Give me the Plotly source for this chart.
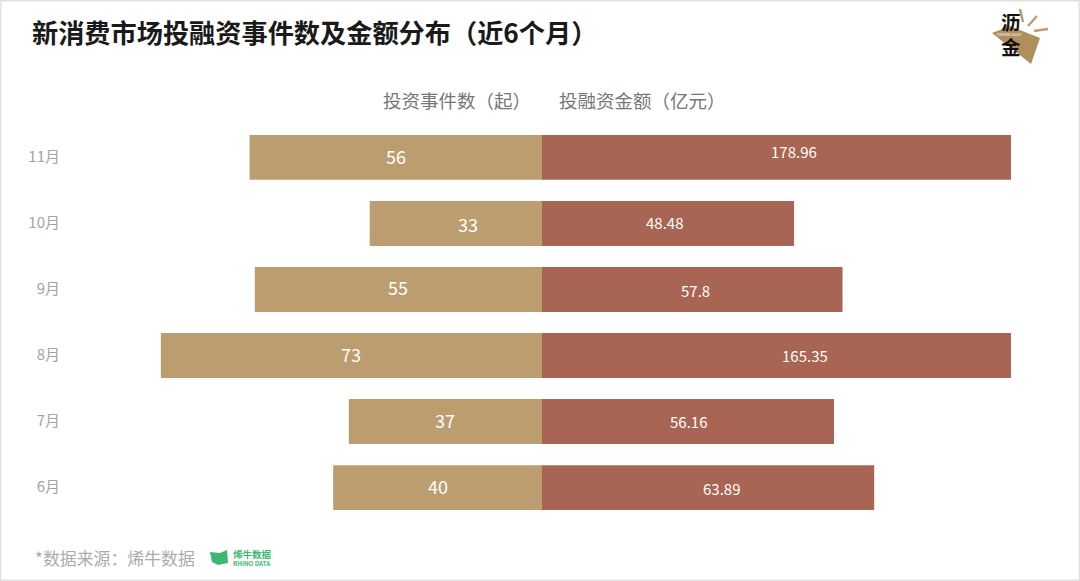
import plotly.graph_objects as go

months = ['11月', '10月', '9月', '8月', '7月', '6月']
events = [56, 33, 55, 73, 37, 40]
amounts = [178.96, 48.48, 57.8, 165.35, 56.16, 63.89]

W = 1080
H = 581
FONT = 'Noto Sans CJK SC'
TAN = '#BC9D70'
RED = '#A86553'
GREEN = '#3DB873'
RIGHT_LIMIT = 90.2  # 金额轴被截断，大额柱子顶到边

# 数字标签相对柱子中心的手动偏移（像素）
left_nudge = [(0, 1), (12, -1), (0, 2), (0, 2), (0, 2), (0, 2)]
right_nudge = [(17, 6), (-4, 1), (3, -1), (28, 0), (0, 0), (13, -1)]


def px(x):
    return x / W


def py(y):
    return 1 - y / H


def poly(points, color):
    path = 'M ' + ' L '.join(f'{px(x)},{py(y)}' for x, y in points) + ' Z'
    return dict(type='path', path=path, xref='paper', yref='paper', fillcolor=color, line_width=0, layer='above')


def ray(x0, y0, x1, y1):
    return dict(type='line', x0=px(x0), y0=py(y0), x1=px(x1), y1=py(y1), xref='paper', yref='paper',
                line=dict(color=TAN, width=2.5))


def label(x, y, text, size, color, anchor='center', weight=None):
    return dict(x=px(x), y=py(y), xref='paper', yref='paper', text=text, showarrow=False, xanchor=anchor,
                yanchor='middle', font=dict(family=FONT, size=size, color=color, weight=weight))


fig = go.Figure()
fig.add_trace(go.Bar(y=months, x=events, orientation='h', marker=dict(color=TAN, line_width=0),
                     xaxis='x', yaxis='y', hoverinfo='skip'))
fig.add_trace(go.Bar(y=months, x=amounts, orientation='h', marker=dict(color=RED, line_width=0),
                     xaxis='x2', yaxis='y2', hoverinfo='skip'))

annotations = [
    label(30, 32, '新消费市场投融资事件数及金额分布（近6个月）', 26.2, '#1a1a1a', 'left', 'bold'),
    label(457, 100, '投资事件数（起）', 18.5, '#777777'),
    label(642, 100, '投融资金额（亿元）', 18.5, '#777777'),
    label(33, 557, '*数据来源：烯牛数据', 16.9, '#ababab', 'left'),
    label(231, 554, '烯牛数据', 9.5, GREEN, 'left', 'bold'),
    label(231, 563, 'RHINO DATA', 6.2, GREEN, 'left', 'bold'),
    label(1011, 22, '沥', 19.5, '#111111', 'center', 'bold'),
    label(1011, 46, '金', 19.5, '#111111', 'center', 'bold'),
    label(1009, 34.5, 'FINDING GOLD', 3.5, '#ffffff'),
]

for month, value, (dx, dy) in zip(months, events, left_nudge):
    annotations.append(dict(x=value / 2, y=month, xref='x', yref='y', text=str(value), showarrow=False,
                            xshift=dx, yshift=dy, font=dict(family=FONT, size=18, color='white')))
for month, value, (dx, dy) in zip(months, amounts, right_nudge):
    annotations.append(dict(x=min(value, RIGHT_LIMIT) / 2, y=month, xref='x2', yref='y2', text=str(value),
                            showarrow=False, xshift=dx, yshift=dy, font=dict(family=FONT, size=15, color='white')))

shapes = [
    # 外边框
    dict(type='rect', x0=0, y0=0, x1=1, y1=1, xref='paper', yref='paper', line=dict(color='#e2e2e2', width=3)),
    # 沥金 logo
    poly([(992, 33), (1010, 26), (1040, 38), (1031, 64)], '#B08F5F'),
    ray(1020, 9, 1023, 22),
    ray(1037, 16, 1028, 26),
    ray(1048, 29, 1034, 31),
    # 烯牛 logo
    poly([(210, 552), (220, 553), (227, 550), (228, 563), (218, 565), (212, 562)], GREEN),
]

fig.update_layout(
    width=W,
    height=H,
    margin=dict(l=0, r=0, t=0, b=0),
    paper_bgcolor='white',
    plot_bgcolor='white',
    showlegend=False,
    bargap=0.32,
    annotations=annotations,
    shapes=shapes,
    xaxis=dict(domain=[px(70), px(542)], range=[90.4, 0], visible=False),
    xaxis2=dict(domain=[px(542), px(1011)], range=[0, RIGHT_LIMIT], visible=False),
    yaxis=dict(domain=[py(520.6), py(124.4)], anchor='x', autorange='reversed', showline=False, showgrid=False,
               ticks='', ticklabelstandoff=9, ticklabelshift=1, tickfont=dict(family=FONT, size=15, color='#a3a3a3')),
    yaxis2=dict(domain=[py(520.6), py(124.4)], anchor='x2', autorange='reversed', showticklabels=False,
                showline=False, showgrid=False, ticks=''),
)

# 去掉页面默认的 body 边距和工具条
fig.write_html("out.html", config={'displayModeBar': False},
               post_script="document.body.style.margin='0';document.body.style.overflow='hidden';")
